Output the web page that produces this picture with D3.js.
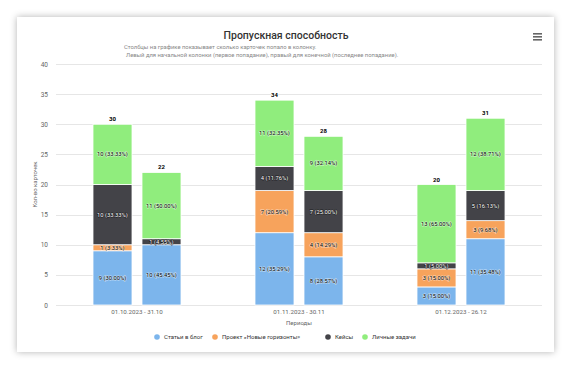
<!DOCTYPE html>
<html>
<head>
<meta charset="utf-8">
<script src="https://cdn.jsdelivr.net/npm/d3@7"></script>
<style>
  body { margin: 0; background: #fff; font-family: Roboto, "Noto Sans", sans-serif; }
  #card { position: absolute; left: 17px; top: 17px; width: 537px; height: 335px;
    background: #fff; box-shadow: 0 0 7px rgba(0,0,0,0.3); }
  svg { position: absolute; left: 0; top: 0; }
</style>
</head>
<body>
<div id="card"></div>
<svg id="chart" width="572" height="370"></svg>
<script>
const periods = ['01.10.2023 - 31.10', '01.11.2023 - 30.11', '01.12.2023 - 26.12'];
const sides = ['start', 'end'];
const seriesNames = ['Статьи в блог', 'Проект «Новые горизонты»', 'Кейсы', 'Личные задачи'];
const seriesColors = ['#7cb5ec', '#f7a35c', '#434348', '#90ed7d'];
// per period: [start column, end column]
const blog     = [[9, 10], [12, 8], [3, 11]];
const project  = [[1, 0],  [7, 4],  [3, 3]];
const cases    = [[10, 1], [4, 7],  [1, 5]];
const personal = [[10, 11],[11, 9], [13, 12]];
const yTicks = [0, 5, 10, 15, 20, 25, 30, 35, 40];

const svg = d3.select('#chart');
const plot = { left: 56, right: 542, top: 64, bottom: 305 };

// build rows
let rows = [];
periods.forEach((p, i) => {
  sides.forEach((s, j) => {
    let vals = [blog[i][j], project[i][j], cases[i][j], personal[i][j]];
    rows.push({ period: p, side: s, vals: vals, total: d3.sum(vals) });
  });
});

const x = d3.scaleBand().domain(periods).range([plot.left, plot.right]).padding(0);
const x1 = d3.scaleBand().domain(sides).range([0, x.bandwidth()])
  .paddingInner(0.204).paddingOuter(0.755);
const y = d3.scaleLinear().domain([0, 40]).range([plot.bottom, plot.top]);

// grid
svg.append('g').selectAll('line').data(yTicks).enter().append('line')
  .attr('x1', plot.left).attr('x2', plot.right)
  .attr('y1', d => Math.round(y(d)) + 0.5).attr('y2', d => Math.round(y(d)) + 0.5)
  .attr('stroke', '#e6e6e6');

// y axis labels
let yAxis = svg.append('g').attr('transform', `translate(${plot.left - 8},0)`)
  .call(d3.axisLeft(y).tickValues(yTicks).tickSize(0).tickPadding(0));
yAxis.select('.domain').remove();
yAxis.selectAll('text').attr('fill', '#666').style('font-size', '6.5px')
  .style('font-family', 'Roboto');

svg.append('text')
  .attr('transform', `translate(37,${(plot.top + plot.bottom) / 2}) rotate(-90)`)
  .attr('text-anchor', 'middle').attr('fill', '#666').style('font-size', '6px')
  .text('Кол-во карточек');

// bars
let groups = svg.append('g').selectAll('g').data(rows).enter().append('g')
  .attr('transform', d => `translate(${x(d.period) + x1(d.side)},0)`);

groups.each(function (d) {
  let g = d3.select(this);
  let acc = 0;
  d.vals.forEach((v, k) => {
    if (v === 0) { return; }
    let y0 = y(acc), y1 = y(acc + v);
    g.append('rect')
      .attr('x', 0).attr('width', x1.bandwidth())
      .attr('y', y1).attr('height', y0 - y1)
      .attr('fill', seriesColors[k]).attr('stroke', '#fff').attr('stroke-width', 0.8);
    let dark = k === 2;
    g.append('text')
      .attr('x', x1.bandwidth() / 2).attr('y', (y0 + y1) / 2 + 2)
      .attr('text-anchor', 'middle')
      .style('font-size', '5.8px')
      .attr('fill', dark ? '#fff' : '#000')
      .attr('stroke', dark ? '#000' : '#fff').attr('stroke-width', 1)
      .attr('stroke-opacity', 0.6)
      .style('paint-order', 'stroke')
      .text(`${v} (${(v / d.total * 100).toFixed(2)}%)`);
    acc += v;
  });
  g.append('text')
    .attr('x', x1.bandwidth() / 2).attr('y', y(d.total) - 3)
    .attr('text-anchor', 'middle').style('font-size', '6px').style('font-weight', 'bold')
    .attr('fill', '#000').attr('stroke', '#fff').attr('stroke-width', 1)
    .style('paint-order', 'stroke')
    .text(d.total);
});

// x axis labels
let xAxis = svg.append('g').attr('transform', `translate(0,${plot.bottom + 5})`)
  .call(d3.axisBottom(x).tickSize(0).tickPadding(0));
xAxis.select('.domain').remove();
xAxis.selectAll('text').attr('fill', '#666').style('font-size', '6.2px')
  .style('font-family', 'Roboto');

svg.append('text').attr('x', (plot.left + plot.right) / 2).attr('y', 325)
  .attr('text-anchor', 'middle').attr('fill', '#666').style('font-size', '6px')
  .text('Периоды');

// title + subtitle
svg.append('text').attr('x', 286).attr('y', 39).attr('text-anchor', 'middle')
  .attr('fill', '#333').style('font-size', '10.5px').style('font-weight', 500)
  .text('Пропускная способность');
svg.append('text').attr('x', 124).attr('y', 49).attr('fill', '#888')
  .style('font-size', '5.85px')
  .text('Столбцы на графике показывает сколько карточек попало в колонку.');
svg.append('text').attr('x', 126).attr('y', 56.5).attr('fill', '#888')
  .style('font-size', '5.85px')
  .text('Левый для начальной колонки (первое попадание), правый для конечной (последнее попадание).');

// legend
const legendX = [157, 215, 328, 365];
let legend = svg.append('g').selectAll('g').data(seriesNames).enter().append('g')
  .attr('transform', (d, i) => `translate(${legendX[i]},337)`);
legend.append('circle').attr('r', 2.8).attr('fill', (d, i) => seriesColors[i]);
legend.append('text').attr('x', 7).attr('y', 2).attr('fill', '#333')
  .style('font-size', '6px').text(d => d);

// menu icon
svg.append('g').selectAll('rect').data([0, 1, 2]).enter().append('rect')
  .attr('x', 533).attr('y', d => 33 + d * 3).attr('width', 9).attr('height', 1.6)
  .attr('fill', '#666');
</script>
</body>
</html>
